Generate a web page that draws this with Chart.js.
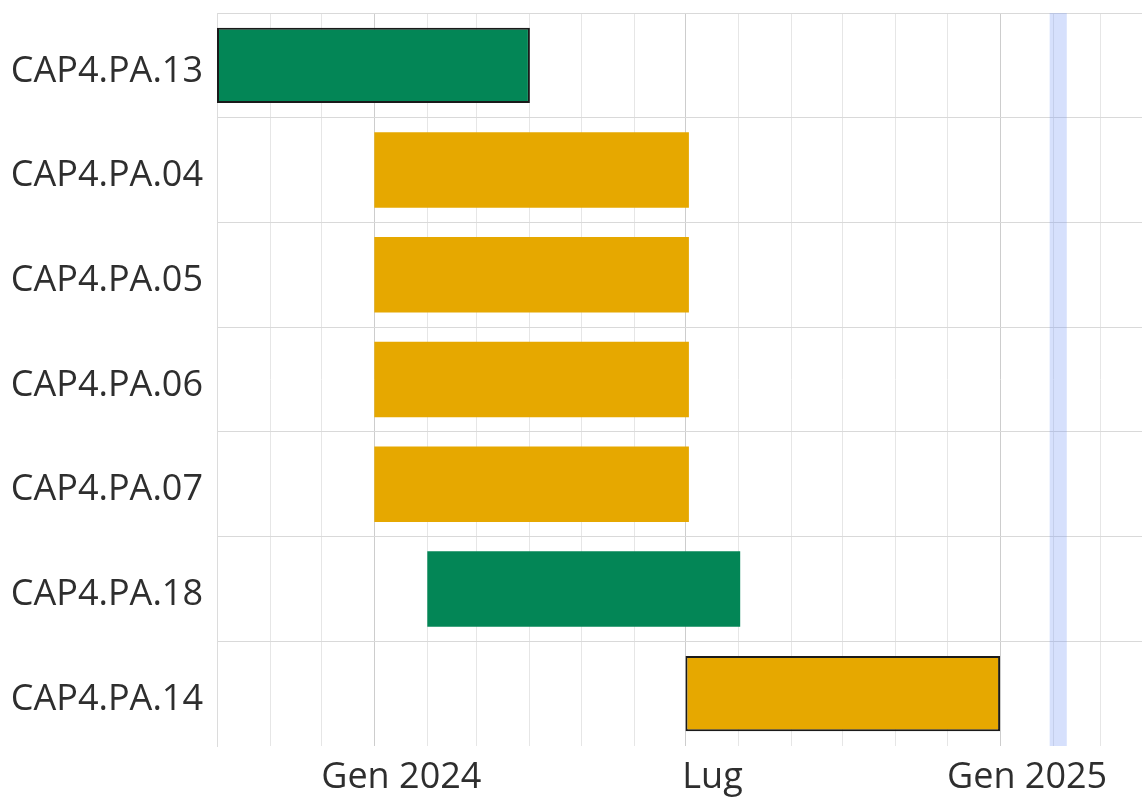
<!DOCTYPE html>
<html>
<head>
<meta charset="utf-8">
<script src="https://cdn.jsdelivr.net/npm/chart.js@4.4.1/dist/chart.umd.min.js"></script>
<style>
  body { margin: 0; background: #fff; }
  #wrap { width: 1142px; height: 798px; }
</style>
</head>
<body>
<div id="wrap"><canvas id="gantt"></canvas></div>
<script>
// attività (asse y, dall'alto in basso)
var tasks      = ['CAP4.PA.13', 'CAP4.PA.04', 'CAP4.PA.05', 'CAP4.PA.06', 'CAP4.PA.07', 'CAP4.PA.18', 'CAP4.PA.14'];
var startDates = ['2023-10-01', '2024-01-01', '2024-01-01', '2024-01-01', '2024-01-01', '2024-02-01', '2024-07-01'];
var endDates   = ['2024-04-01', '2024-07-03', '2024-07-03', '2024-07-03', '2024-07-03', '2024-08-02', '2025-01-01'];
var taskState  = ['chiuso', 'aperto', 'aperto', 'aperto', 'aperto', 'chiuso', 'aperto'];
var taskFlag   = [true, false, false, false, false, false, true];

// asse temporale
var axisStart  = '2023-10-01';
var axisEnd    = '2025-03-25';
var todayFrom  = '2025-01-30';
var todayTo    = '2025-02-09';
var monthNames = ['Gen', 'Feb', 'Mar', 'Apr', 'Mag', 'Giu', 'Lug', 'Ago', 'Set', 'Ott', 'Nov', 'Dic'];

function toTime(s) {
    var p = s.split('-');
    return Date.UTC(+p[0], +p[1] - 1, +p[2]);
}

var stateColors = { chiuso: '#038656', aperto: '#e6a800' };

var barData = [];
for (var i = 0; i < tasks.length; i++) {
    barData.push([toTime(startDates[i]), toTime(endDates[i])]);
}

// inizio di ogni mese nell'intervallo
var monthTicks = [];
var d = new Date(toTime(axisStart));
while (d.getTime() <= toTime(axisEnd)) {
    monthTicks.push(d.getTime());
    d = new Date(Date.UTC(d.getUTCFullYear(), d.getUTCMonth() + 1, 1));
}

function isMajor(v) {
    var m = new Date(v).getUTCMonth();
    return m === 0 || m === 6;
}

// banda "oggi"
var todayBand = {
    id: 'todayBand',
    beforeDatasetsDraw: function(chart) {
        var x = chart.scales.x, area = chart.chartArea, ctx = chart.ctx;
        var x1 = x.getPixelForValue(toTime(todayFrom));
        var x2 = x.getPixelForValue(toTime(todayTo));
        ctx.save();
        ctx.fillStyle = 'rgba(118,152,245,0.3)';
        ctx.fillRect(x1, area.top, x2 - x1, area.bottom - area.top);
        ctx.restore();
    }
};

var ganttCanvas = document.getElementById('gantt').getContext('2d');
var ganttChart = new Chart(ganttCanvas, {
    type: 'bar',
    data: {
        labels: tasks,
        datasets: [{
            data: barData,
            backgroundColor: taskState.map(function(s) { return stateColors[s]; }),
            borderColor: taskFlag.map(function(f) { return f ? '#1a1a1a' : 'rgba(0,0,0,0)'; }),
            borderWidth: taskFlag.map(function(f) { return f ? 2 : 0; }),
            borderSkipped: false
        }]
    },
    options: {
        indexAxis: 'y',
        responsive: true,
        maintainAspectRatio: false,
        animation: false,
        layout: { padding: { top: 13, right: 0, left: 0, bottom: 0 } },
        plugins: {
            legend: { display: false },
            tooltip: { enabled: false }
        },
        scales: {
            x: {
                type: 'linear',
                min: toTime(axisStart),
                max: toTime(axisEnd),
                afterBuildTicks: function(scale) {
                    scale.ticks = monthTicks.map(function(v) { return { value: v }; });
                },
                afterFit: function(scale) {
                    scale.height = 52;
                    scale.paddingLeft = 0;
                    scale.paddingRight = 0;
                },
                border: { display: false },
                grid: {
                    drawTicks: false,
                    color: function(ctx) {
                        if (ctx.type !== 'tick') return 'rgba(0,0,0,0)';
                        return isMajor(ctx.tick.value) ? '#cdcdcd' : '#e6e6e6';
                    }
                },
                ticks: {
                    autoSkip: false,
                    maxRotation: 0,
                    padding: 10,
                    labelOffset: 27,
                    color: '#2e2e2e',
                    font: { family: 'Open Sans', size: 36 },
                    callback: function(v) {
                        var dt = new Date(v);
                        var m = dt.getUTCMonth();
                        if (m === 0) return monthNames[0] + ' ' + dt.getUTCFullYear();
                        if (m === 6) return monthNames[6];
                        return '';
                    }
                }
            },
            y: {
                afterFit: function(scale) {
                    scale.width = 217;
                    scale.paddingTop = 0;
                    scale.paddingBottom = 0;
                },
                border: { display: true, color: '#dcdcdc' },
                grid: {
                    drawTicks: false,
                    color: function(ctx) {
                        return ctx.type === 'tick' ? '#d9d9d9' : 'rgba(0,0,0,0)';
                    }
                },
                ticks: {
                    padding: 14,
                    labelOffset: 6,
                    color: '#2e2e2e',
                    font: { family: 'Open Sans', size: 36 }
                }
            }
        }
    },
    plugins: [todayBand]
});
</script>
</body>
</html>
